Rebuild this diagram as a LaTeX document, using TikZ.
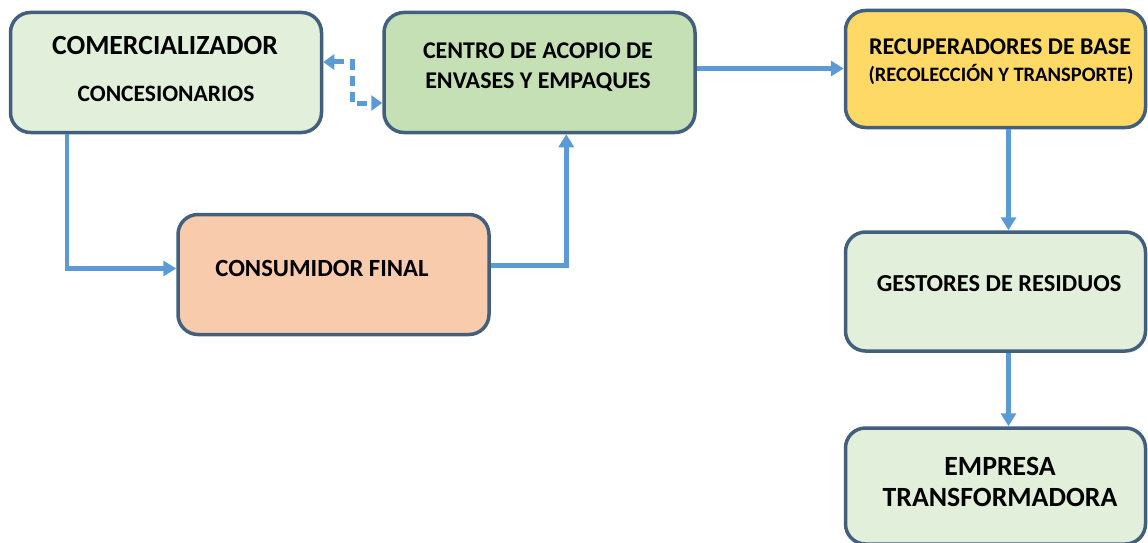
\documentclass[tikz,border=0pt]{standalone}
\usepackage{fontspec}
\setmainfont{Carlito}
\usetikzlibrary{arrows.meta,calc}
\definecolor{bord}{RGB}{66,96,126}
\definecolor{lineblue}{RGB}{91,155,213}
\definecolor{palegreen}{RGB}{226,239,218}
\definecolor{midgreen}{RGB}{197,224,180}
\definecolor{gold}{RGB}{255,217,102}
\definecolor{peach}{RGB}{248,203,173}
\tikzset{
  box/.style={draw=bord, line width=3.5pt, rounded corners=20pt, inner sep=0pt},
  lbl/.style={font=\bfseries, text=black, inner sep=0pt, align=center},
  conn/.style={draw=lineblue, line width=4.5pt, -{Triangle[length=13pt,width=15pt]}},
  dconn/.style={draw=lineblue, line width=5pt, dash pattern=on 10pt off 6pt,
     {Triangle[length=11pt,width=15pt]}-{Triangle[length=11pt,width=15pt]}}
}
\begin{document}
\begin{tikzpicture}[x=1pt,y=-1pt]
\useasboundingbox (0,0) rectangle (1148,543);
% boxes
\node[box, fill=palegreen, minimum width=311pt, minimum height=120pt] (b1) at (166,72.5) {};
\node[box, fill=midgreen, minimum width=311pt, minimum height=120pt] (b2) at (539.5,72.5) {};
\node[box, fill=gold, minimum width=300pt, minimum height=117pt] (b3) at (995.5,69) {};
\node[box, fill=peach, minimum width=311pt, minimum height=120pt] (cons) at (333.5,274.5) {};
\node[box, fill=palegreen, minimum width=300pt, minimum height=119pt] (b4) at (995.5,291.5) {};
\node[box, fill=palegreen, minimum width=300pt, minimum height=116pt] (b5) at (995.5,486) {};
% labels
\node[lbl, font=\bfseries\fontsize{27.7}{30}\selectfont] (t1a) at (165,46) {COMERCIALIZADOR};
\node[lbl, font=\bfseries\fontsize{23.5}{26}\selectfont] (t1b) at (166,94) {CONCESIONARIOS};
\node[lbl, font=\bfseries\fontsize{24}{30}\selectfont] (t2) at (538,67) {CENTRO DE ACOPIO DE\\ENVASES Y EMPAQUES};
\node[lbl, font=\bfseries\fontsize{24}{26}\selectfont] (t3a) at (1000,47) {RECUPERADORES DE BASE};
\node[lbl, font=\bfseries\fontsize{20.5}{22}\selectfont] (t3b) at (1001,74) {(RECOLECCIÓN Y TRANSPORTE)};
\node[lbl, font=\bfseries\fontsize{24.7}{30}\selectfont] (tc) at (322,268) {CONSUMIDOR FINAL};
\node[lbl, font=\bfseries\fontsize{24.4}{26}\selectfont] (t4) at (999,284) {GESTORES DE RESIDUOS};
\node[lbl, font=\bfseries\fontsize{27.8}{31}\selectfont] (t5) at (1000,482) {EMPRESA\\TRANSFORMADORA};
% connectors
\draw[conn] ([xshift=58pt]b1.south west) |- ([yshift=6pt]cons.west);
\draw[conn] ([yshift=9pt]cons.east) -| ([xshift=184pt]b2.south west);
\draw[conn] ([yshift=4pt]b2.east) -- ([yshift=4pt]b2.east -| b3.west);
\draw[conn] ([xshift=13pt]b3.south) -- ([xshift=13pt]b3.south |- b4.north);
\draw[conn] ([xshift=13pt]b4.south) -- ([xshift=13pt]b4.south |- b5.north);
\coordinate (d1) at (352,62);
\coordinate (d2) at (352,103);
\draw[dconn] (d1 -| b1.east) -- (d1) -- (d2) -- (d2 -| b2.west);
\end{tikzpicture}
\end{document}
